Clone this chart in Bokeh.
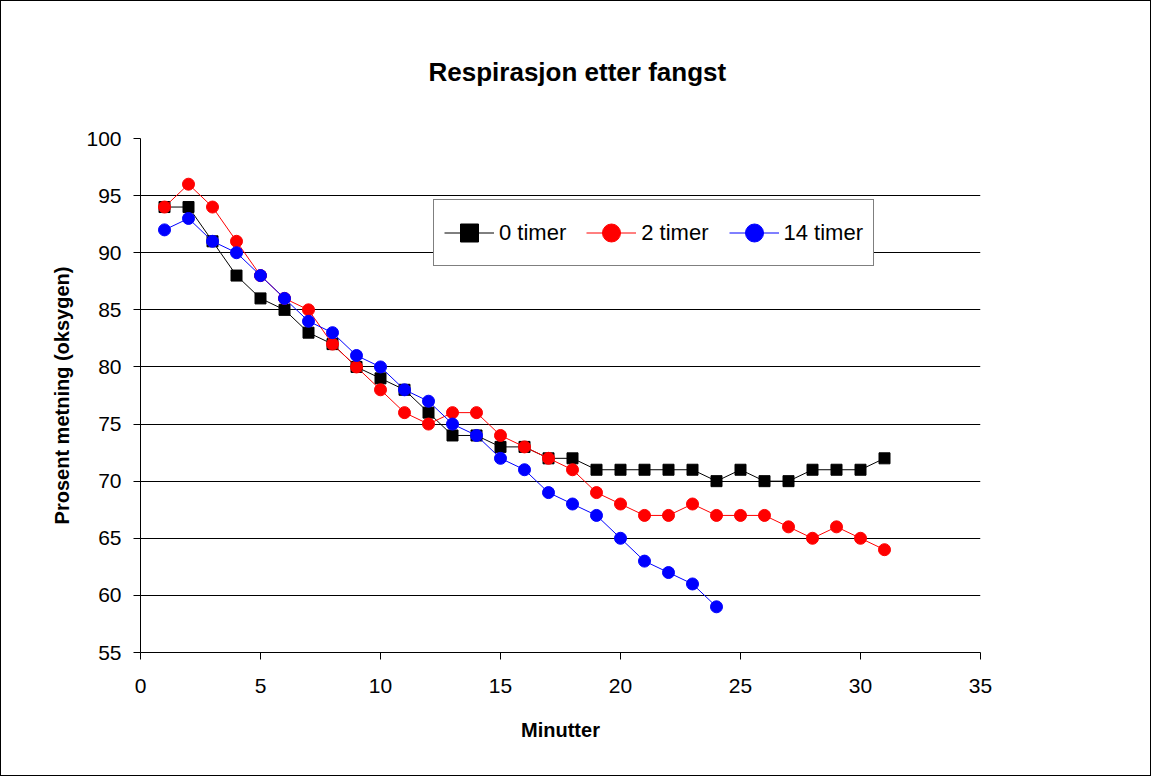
from bokeh.plotting import figure
from bokeh.models import Range1d, SingleIntervalTicker, Legend, LegendItem
from bokeh.embed import file_html
from bokeh.resources import INLINE

minutes_0 = list(range(1, 32))
timer_0 = [94, 94, 91, 88, 86, 85, 83, 82, 80, 79, 78, 76, 74, 74, 73, 73, 72, 72,
           71, 71, 71, 71, 71, 70, 71, 70, 70, 71, 71, 71, 72]
minutes_2 = list(range(1, 32))
timer_2 = [94, 96, 94, 91, 88, 86, 85, 82, 80, 78, 76, 75, 76, 76, 74, 73, 72, 71,
           69, 68, 67, 67, 68, 67, 67, 67, 66, 65, 66, 65, 64]
minutes_14 = list(range(1, 25))
timer_14 = [92, 93, 91, 90, 88, 86, 84, 83, 81, 80, 78, 77, 75, 74, 72, 71, 69, 68,
            67, 65, 63, 62, 61, 59]
title_text = "Respirasjon etter fangst"

FONT = "Liberation Sans"
NAN = float("nan")

p = figure(width=1151, height=776, output_backend="svg", toolbar_location=None,
           x_range=Range1d(0, 35), y_range=Range1d(55, 100),
           min_border_left=139, min_border_right=172, min_border_top=137,
           min_border_bottom=125)
p.styles = {"border": "1px solid black"}

p.title.text = title_text
p.title.text_font = FONT
p.title.text_font_size = "26px"
p.title.text_font_style = "bold"
p.title.text_color = "black"
p.title.align = "left"
p.title.offset = 288
p.title.standoff = 104

p.outline_line_color = None
p.background_fill_color = "white"
p.border_fill_color = "white"

p.xgrid.grid_line_color = None
p.ygrid.grid_line_color = "black"
p.ygrid.grid_line_width = 1
p.ygrid.ticker = SingleIntervalTicker(interval=5)

for ax in (p.xaxis[0], p.yaxis[0]):
    ax.ticker = SingleIntervalTicker(interval=5)
    ax.minor_tick_line_color = None
    ax.major_tick_in = 0
    ax.major_tick_out = 7
    ax.axis_line_color = "black"
    ax.major_tick_line_color = "black"
    ax.major_label_text_font = FONT
    ax.major_label_text_font_size = "21px"
    ax.major_label_text_color = "black"
    ax.axis_label_text_font = FONT
    ax.axis_label_text_font_size = "20px"
    ax.axis_label_text_font_style = "bold"
    ax.axis_label_text_color = "black"

p.xaxis.axis_label = "Minutter"
p.yaxis.axis_label = "Prosent metning (oksygen)"
p.xaxis.major_label_standoff = 19
p.yaxis.major_label_standoff = 12
p.xaxis.axis_label_standoff = 23
p.yaxis.axis_label_standoff = 10

series = [
    ("0 timer", minutes_0, timer_0, "black", "square", 11),
    ("2 timer", minutes_2, timer_2, "#ff0000", "circle", 12),
    ("14 timer", minutes_14, timer_14, "#0000ff", "circle", 12),
]
items = []
for label, xs, ys, color, marker, size in series:
    p.line(xs, ys, line_color=color, line_width=1)
    p.scatter(xs, ys, marker=marker, size=size, fill_color=color, line_color=color)
    # legend-only renderers (a single undrawn NaN point) so the swatch marker can be smaller
    lg_line = p.line([NAN], [NAN], line_color=color, line_width=1)
    lg_mark = p.scatter([NAN], [NAN], marker=marker, size=size - 2,
                        fill_color=color, line_color=color)
    items.append(LegendItem(label=label, renderers=[lg_line, lg_mark]))

legend = Legend(items=items, orientation="horizontal", location=(293, 386))
legend.label_text_font = FONT
legend.label_text_font_size = "22px"
legend.label_text_color = "black"
legend.glyph_width = 50
legend.glyph_height = 45
legend.label_height = 45
legend.label_standoff = 5
legend.spacing = 20
legend.padding = 10
legend.margin = 0
legend.border_line_color = "black"
legend.border_line_width = 1
legend.background_fill_color = "white"
legend.background_fill_alpha = 1
p.add_layout(legend, "center")

open("out.html", "w").write(file_html(p, INLINE))
